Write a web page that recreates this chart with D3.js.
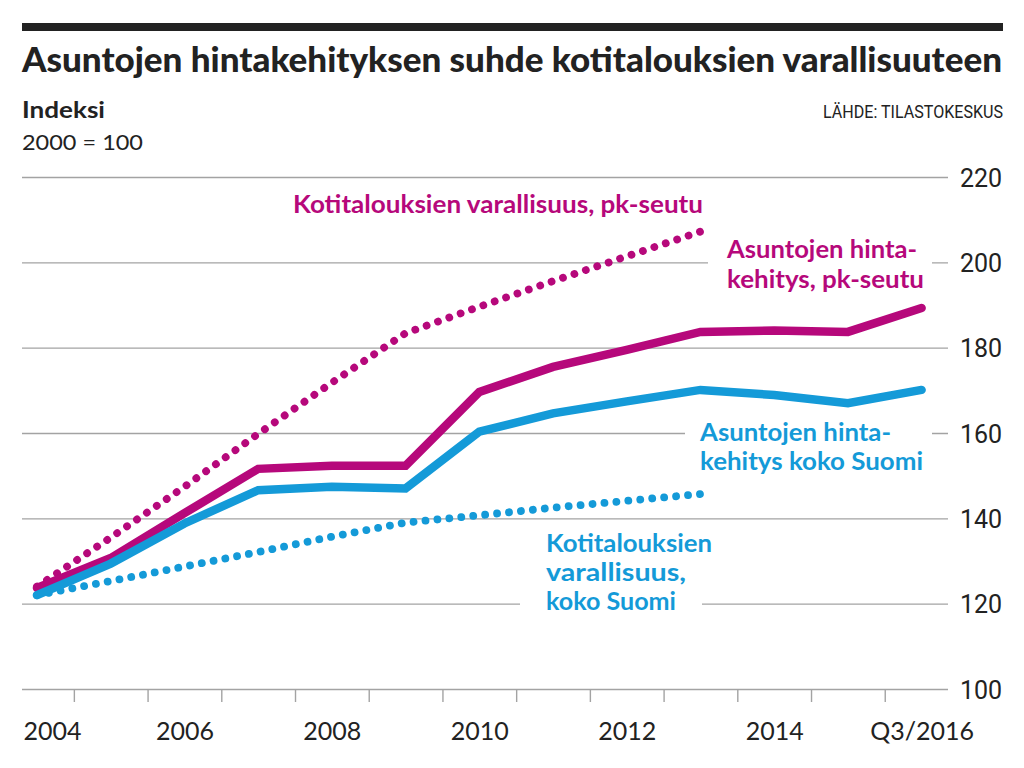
<!DOCTYPE html>
<html>
<head>
<meta charset="utf-8">
<script src="https://cdn.jsdelivr.net/npm/d3@7"></script>
<style>
  html, body { margin: 0; padding: 0; background: #fff; }
  svg { display: block; }
</style>
</head>
<body>
<svg id="chart" width="1024" height="768"></svg>
<script>
// ---- data ----
const years = [2004, 2005, 2006, 2007, 2008, 2009, 2010, 2011, 2012, 2013, 2014, 2015, 2016];
const wealthYears = [2004, 2005, 2006, 2007, 2008, 2009, 2010, 2011, 2012, 2013];
const pricesCapital = [123.7, 130.7, 141.2, 151.6, 152.3, 152.3, 169.6, 175.5, 179.5, 183.7, 184.0, 183.7, 189.3];
const pricesFinland = [122.0, 129.4, 138.8, 146.6, 147.4, 147.0, 160.3, 164.6, 167.4, 170.1, 168.9, 167.0, 170.1];
const wealthCapital = [124.0, 135.5, 147.4, 159.8, 171.8, 183.4, 189.6, 195.6, 201.4, 207.2];
const wealthFinland = [122.0, 125.3, 128.7, 132.1, 135.7, 139.0, 140.7, 142.5, 144.1, 145.7];
const yTicks = [100, 120, 140, 160, 180, 200, 220];
const xLabelYears = [2004, 2006, 2008, 2010, 2012, 2014, 2016];
const xLabelText = ["2004", "2006", "2008", "2010", "2012", "2014", "Q3/2016"];
const yearBoundaries = [2004.5, 2005.5, 2006.5, 2007.5, 2008.5, 2009.5, 2010.5, 2011.5, 2012.5, 2013.5, 2014.5, 2015.5];

const PINK = "#b6087b";
const BLUE = "#149ad8";
const GRID = "#a3a3a3";
const INK = "#222222";
const SANS = "Lato, 'Open Sans', 'Noto Sans', sans-serif";
const NUM = "Roboto, 'Noto Sans', sans-serif";

const svg = d3.select("#chart");
svg.append("rect").attr("width", 1024).attr("height", 768).attr("fill", "#fff");

// plot geometry
const left = 22, right = 948;
const x = d3.scaleLinear().domain([2004, 2016]).range([37, 921.6]);
const y = d3.scaleLinear().domain([100, 220]).range([689, 177]);

function txt(g, s, px, py, o) {
  const t = g.append("text")
    .attr("x", px).attr("y", py)
    .attr("font-family", o.family || SANS)
    .attr("font-size", o.size)
    .attr("font-weight", o.weight || 400)
    .attr("fill", o.fill || INK)
    .attr("text-anchor", o.anchor || "start")
    .text(s);
  if (o.width) t.attr("textLength", o.width).attr("lengthAdjust", "spacingAndGlyphs");
  return t;
}

// ---- header ----
svg.append("rect").attr("x", 22).attr("y", 23).attr("width", 981).attr("height", 8).attr("fill", INK);
txt(svg, "Asuntojen hintakehityksen suhde kotitalouksien varallisuuteen", 22, 72, {size: 35, weight: 900, width: 980});
txt(svg, "Indeksi", 22, 118, {size: 23, weight: 700, width: 83});
txt(svg, "2000 = 100", 22, 150, {size: 21, weight: 400, width: 121});
txt(svg, "LÄHDE: TILASTOKESKUS", 1003, 118, {size: 18, weight: 400, anchor: "end", width: 180, family: NUM});

// ---- y grid + labels ----
const yAxis = svg.append("g")
  .attr("transform", `translate(${right},0)`)
  .call(d3.axisRight(y).tickValues(yTicks).tickSize(-(right - left)).tickPadding(12));
yAxis.select(".domain").remove();
yAxis.selectAll(".tick line").attr("stroke", GRID).attr("stroke-width", 1.4);
yAxis.selectAll(".tick text")
  .attr("font-family", NUM).attr("font-size", 25).attr("fill", INK).attr("dy", "0.36em");

// ---- x ticks (year boundaries) ----
const xTicks = svg.append("g")
  .attr("transform", "translate(0,689)")
  .call(d3.axisBottom(x).tickValues(yearBoundaries).tickSize(13).tickFormat(""));
xTicks.select(".domain").remove();
xTicks.selectAll(".tick line").attr("stroke", GRID).attr("stroke-width", 1.4);

// ---- x labels ----
const xLab = svg.append("g")
  .attr("transform", "translate(0,689)")
  .call(d3.axisBottom(x).tickValues(xLabelYears).tickSize(0).tickPadding(33)
    .tickFormat((d, i) => xLabelText[i]));
xLab.select(".domain").remove();
xLab.selectAll(".tick text")
  .attr("font-family", SANS).attr("font-size", 25).attr("fill", INK);
xLab.selectAll(".tick").filter(d => d === 2004).select("text")
  .attr("text-anchor", "start").attr("x", left + 1 - x(2004));

// ---- knockouts behind labels ----
const knock = [[708, 240, 224, 50], [685, 420, 247, 55], [520, 592, 182, 24]];
svg.append("g").selectAll("rect").data(knock).join("rect")
  .attr("x", d => d[0]).attr("y", d => d[1]).attr("width", d => d[2]).attr("height", d => d[3])
  .attr("fill", "#fff");

// ---- lines ----
const line = d3.line().x(d => x(d[0])).y(d => y(d[1]));
const g = svg.append("g");
function drawDotted(xs, vs, color) {
  const p = g.append("path").datum(xs.map((yr, i) => [yr, vs[i]]))
    .attr("d", line).attr("fill", "none").attr("stroke", color)
    .attr("stroke-width", 7.8).attr("stroke-linecap", "round");
  const L = p.node().getTotalLength();
  const n = Math.round(L / 12);
  const gap = (L - 0.5) / n;
  p.attr("stroke-dasharray", `0.01 ${gap - 0.01}`);
}
function drawSolid(xs, vs, color) {
  g.append("path").datum(xs.map((yr, i) => [yr, vs[i]]))
    .attr("d", line).attr("fill", "none").attr("stroke", color)
    .attr("stroke-width", 8.5).attr("stroke-linecap", "round").attr("stroke-linejoin", "miter");
}
drawDotted(wealthYears, wealthCapital, PINK);
drawDotted(wealthYears, wealthFinland, BLUE);
drawSolid(years, pricesCapital, PINK);
drawSolid(years, pricesFinland, BLUE);

// ---- annotations ----
const ann = svg.append("g");
const A = {size: 25.5, weight: 700};
txt(ann, "Kotitalouksien varallisuus, pk-seutu", 293, 213, {...A, fill: PINK, width: 410});
txt(ann, "Asuntojen hinta-", 727, 258, {...A, fill: PINK, width: 190});
txt(ann, "kehitys, pk-seutu", 727, 287.5, {...A, fill: PINK, width: 197});
txt(ann, "Asuntojen hinta-", 700, 441, {...A, fill: BLUE, width: 191});
txt(ann, "kehitys koko Suomi", 700, 470, {...A, fill: BLUE, width: 223});
txt(ann, "Kotitalouksien", 546, 552, {...A, fill: BLUE, width: 166});
txt(ann, "varallisuus,", 546, 581, {...A, fill: BLUE, width: 140});
txt(ann, "koko Suomi", 546, 610, {...A, fill: BLUE, width: 130});
</script>
</body>
</html>
